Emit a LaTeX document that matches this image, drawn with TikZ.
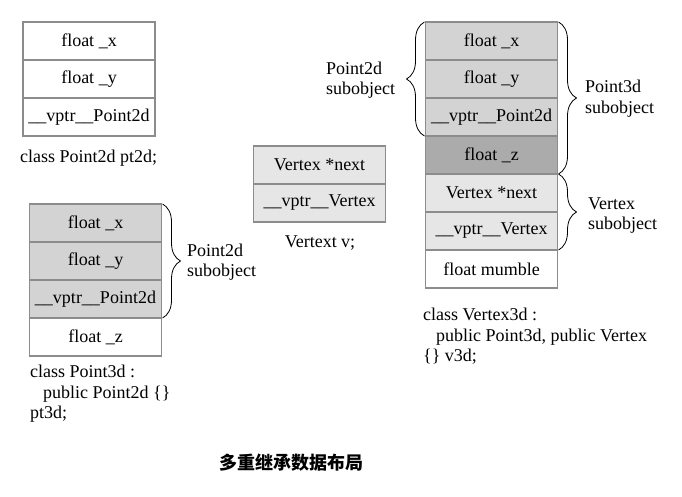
\documentclass[tikz,border=0pt]{standalone}
\usepackage{fontspec}
\setmainfont{Liberation Serif}
\newfontfamily\cjk{Noto Sans CJK SC}
\usetikzlibrary{decorations.pathreplacing}
\definecolor{bordercol}{RGB}{140,140,140}
\definecolor{gA}{RGB}{211,211,211}
\definecolor{gB}{RGB}{171,171,171}
\definecolor{gC}{RGB}{230,230,230}
\begin{document}
\begin{tikzpicture}[x=1pt,y=-1pt,
  cell/.style={draw=bordercol,line width=1.5pt,minimum width=132pt,minimum height=38pt,
    inner sep=0pt,outer sep=0pt,font=\fontsize{18}{20.5}\selectfont},
  txt/.style={inner sep=0pt,align=left,font=\fontsize{18}{20.5}\selectfont},
  brc/.style={decorate,decoration={brace,amplitude=18pt},line width=0.8pt}]
\useasboundingbox (0,0) rectangle (682,497);
% Point2d
\node[cell,fill=white] (a1) at (89,41) {float \_x};
\node[cell,fill=white] (a2) at (89,79) {float \_y};
\node[cell,fill=white] (a3) at (89,117) {\_\_vptr\_\_Point2d};
\node[txt,anchor=west] (ta) at (20,158) {class Point2d pt2d;};
% Point3d
\node[cell,fill=gA] (b1) at (95.5,223) {float \_x};
\node[cell,fill=gA] (b2) at (95.5,261) {float \_y};
\node[cell,fill=gA] (b3) at (95.5,299) {\_\_vptr\_\_Point2d};
\node[cell,fill=white] (b4) at (95.5,337) {float \_z};
\draw[brc] ([xshift=1]b1.north east) -- ([xshift=1]b3.south east);
\node[txt,anchor=west] (lb) at (187,262) {Point2d\\subobject};
\node[txt,anchor=west] (tb) at (30,394) {class Point3d :\\\hspace*{13pt}public Point2d \{\}\\pt3d;};
% Vertex
\node[cell,fill=gC] (c1) at (319.5,165) {Vertex *next};
\node[cell,fill=gC] (c2) at (319.5,203) {\_\_vptr\_\_Vertex};
\node[txt] (tc) at (320,243) {Vertext v;};
% Vertex3d
\node[cell,fill=gA] (r1) at (491.5,41) {float \_x};
\node[cell,fill=gA] (r2) at (491.5,79) {float \_y};
\node[cell,fill=gA] (r3) at (491.5,117) {\_\_vptr\_\_Point2d};
\node[cell,fill=gB] (r4) at (491.5,155) {float \_z};
\node[cell,fill=gC] (r5) at (491.5,193) {Vertex *next};
\node[cell,fill=gC] (r6) at (491.5,231) {\_\_vptr\_\_Vertex};
\node[cell,fill=white] (r7) at (491.5,269) {float mumble};
\draw[brc] ([xshift=-1]r3.south west) -- ([xshift=-1]r1.north west);
\draw[brc] ([xshift=1]r1.north east) -- ([xshift=1]r4.south east);
\draw[brc] ([xshift=1]r5.north east) -- ([xshift=1]r6.south east);
\node[txt,anchor=west] (lr1) at (326,80) {Point2d\\subobject};
\node[txt,anchor=west] (lr2) at (585,98.5) {Point3d\\subobject};
\node[txt,anchor=west] (lr3) at (588,215.5) {Vertex\\subobject};
\node[txt,anchor=west] (tr) at (423,336.5) {class Vertex3d :\\\hspace*{13pt}public Point3d, public Vertex\\\{\} v3d;};
% title
\node[inner sep=0pt,font=\cjk\bfseries\fontsize{18}{20}\selectfont] (title) at (291,463) {多重继承数据布局};
\end{tikzpicture}
\end{document}
